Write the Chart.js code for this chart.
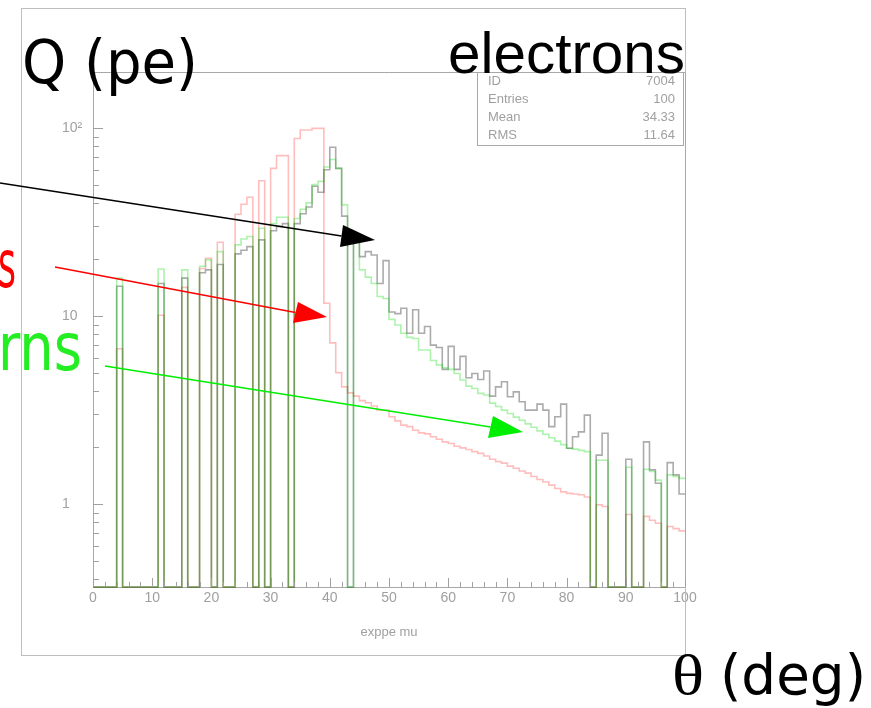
<!DOCTYPE html>
<html lang="en">
<head>
<meta charset="UTF-8">
<title>exppe mu</title>
<script src="https://cdn.jsdelivr.net/npm/chart.js"></script>
<style>
    body { margin: 0; background: #fff; }
    #chart { display: block; }
</style>
</head>
<body>
<canvas id="chart" width="871" height="708"></canvas>
<script>
// histogram 7004: 100 bins between 0 and 100, 0 = empty bin
const xMin = 0, xMax = 100, nBins = 100;
const yMin = 0.362, yMax = 198.6;

// black (electrons)
const electrons = [
    0, 0, 0, 0, 14.4, 0, 0, 0, 0, 0,
    0, 14.9, 0, 0, 0, 15.9, 0, 0, 17, 17.6,
    0, 18.8, 0, 0, 21.4, 22.4, 23.4, 0, 25.4, 0,
    28.4, 30, 31, 0, 31, 35, 38, 49, 45.5, 60,
    79, 61, 34, 0, 26, 20.7, 22, 21.1, 14.9, 19.7,
    10.5, 10.3, 11, 8.1, 10.8, 8.1, 8.8, 7.0, 6.8, 5.2,
    6.9, 5.2, 6.1, 4.7, 4.95, 4.6, 5.1, 3.75, 4.2, 4.47,
    3.72, 3.95, 3.5, 3.16, 3.16, 3.4, 3.16, 2.58, 2.91, 3.4,
    1.98, 2.28, 2.42, 2.97, 0, 1.82, 2.38, 0, 0, 0,
    1.73, 0, 0, 2.14, 1.52, 1.29, 0, 1.66, 1.43, 1.13
];
// red
const redHist = [
    0, 0, 0, 0, 6.7, 0, 0, 0, 0, 0,
    0, 10.1, 0, 0, 0, 14.2, 0, 0, 17.9, 20.3,
    0, 24.7, 0, 0, 34.8, 39.3, 42.8, 0, 52.4, 0,
    61, 71.3, 71.3, 0, 88, 97.6, 97.6, 99.6, 99.6, 11.7,
    7.2, 5.0, 4.2, 3.9, 3.75, 3.55, 3.46, 3.32, 3.16, 3.16,
    2.91, 2.77, 2.63, 2.58, 2.47, 2.39, 2.36, 2.28, 2.21, 2.14,
    2.1, 2.03, 1.99, 1.95, 1.9, 1.86, 1.8, 1.73, 1.68, 1.65,
    1.59, 1.55, 1.5, 1.46, 1.4, 1.35, 1.31, 1.26, 1.21, 1.16,
    1.14, 1.13, 1.12, 1.09, 0, 0.99, 0.97, 0, 0, 0,
    0.88, 0, 0, 0.86, 0.82, 0.79, 0, 0.76, 0.74, 0.72
];
// green
const greenHist = [
    0, 0, 0, 0, 15.9, 0, 0, 0, 0, 0,
    0, 17.8, 0, 0, 0, 17.6, 0, 0, 18.4, 19.9,
    0, 22, 0, 0, 23.9, 25.7, 26.5, 0, 29.3, 0,
    31, 33.5, 33.5, 0, 33, 37, 40, 50, 52, 62,
    68, 61, 39, 0, 27, 17.6, 16.1, 14.9, 12.7, 12.4,
    9.6, 8.96, 8.1, 7.7, 7.6, 6.6, 6.6, 5.8, 5.5, 5.3,
    5.2, 4.95, 4.57, 4.24, 4.12, 3.88, 3.8, 3.44, 3.3, 3.16,
    3.03, 2.9, 2.79, 2.67, 2.56, 2.45, 2.35, 2.25, 2.16, 2.07,
    1.98, 1.96, 1.93, 1.9, 0, 1.71, 1.71, 0, 0, 0,
    1.57, 0, 0, 1.53, 1.49, 1.34, 0, 1.43, 1.4, 1.37
];

const yTicks = [1, 10, 100];
const yTickLabels = ['1', '10', '10\u00B2'];
const xTitle = 'exppe mu';
const statLabels = ['ID', 'Entries', 'Mean', 'RMS'];
const statValues = ['7004', '100', '34.33', '11.64'];

// outline of a histogram, empty bins drop to the bottom of the axis
function steps(vals) {
    const w = (xMax - xMin) / nBins;
    const pts = vals.map((v, i) => ({ x: xMin + i * w, y: v > 0 ? v : yMin }));
    pts.push({ x: xMax, y: pts[pts.length - 1].y });
    return pts;
}

function fitText(ctx, str, x, baseline, size, family, width, color, align) {
    ctx.save();
    ctx.font = size + 'px ' + family;
    const w = ctx.measureText(str).width;
    ctx.translate(x, baseline);
    ctx.scale(width / w, 1);
    ctx.fillStyle = color;
    ctx.textAlign = align || 'left';
    ctx.textBaseline = 'alphabetic';
    ctx.fillText(str, 0, 0);
    ctx.restore();
}

function arrow(ctx, tail, base, head, color) {
    ctx.strokeStyle = color;
    ctx.fillStyle = color;
    ctx.lineWidth = 1.5;
    ctx.beginPath();
    ctx.moveTo(tail[0], tail[1]);
    ctx.lineTo((base[0][0] + base[1][0]) / 2, (base[0][1] + base[1][1]) / 2);
    ctx.stroke();
    ctx.beginPath();
    ctx.moveTo(base[0][0], base[0][1]);
    ctx.lineTo(base[1][0], base[1][1]);
    ctx.lineTo(head[0], head[1]);
    ctx.closePath();
    ctx.fill();
}

const deco = {
    id: 'deco',
    afterDraw(chart) {
        const { ctx, chartArea: a, scales: { x, y } } = chart;
        ctx.save();

        // page frame and the rest of the plot box
        ctx.strokeStyle = '#bdbdbd';
        ctx.lineWidth = 1;
        ctx.strokeRect(21.5, 8.5, 664, 647);
        ctx.strokeStyle = '#a8a8a8';
        ctx.beginPath();
        ctx.moveTo(a.left, a.top + 0.5);
        ctx.lineTo(a.right + 0.5, a.top + 0.5);
        ctx.lineTo(a.right + 0.5, a.bottom);
        ctx.stroke();

        // tick marks pointing into the plot
        ctx.strokeStyle = '#a0a0a0';
        ctx.beginPath();
        for (let v = xMin; v <= xMax; v += 2) {
            const px = Math.round(x.getPixelForValue(v)) + 0.5;
            const len = v % 10 === 0 ? 9 : 5;
            ctx.moveTo(px, a.bottom);
            ctx.lineTo(px, a.bottom - len);
        }
        [0.1, 1, 10, 100].forEach(d => {
            for (let m = 1; m <= 9; m++) {
                const v = m * d;
                if (v < yMin || v > yMax) continue;
                const py = Math.round(y.getPixelForValue(v)) + 0.5;
                ctx.moveTo(a.left, py);
                ctx.lineTo(a.left + (m === 1 ? 10 : 6), py);
            }
        });
        ctx.stroke();

        // statistics box
        ctx.fillStyle = '#fff';
        ctx.fillRect(477.5, 72.5, 206, 73);
        ctx.strokeStyle = '#a8a8a8';
        ctx.strokeRect(477.5, 72.5, 206, 73);
        ctx.font = '13px "Liberation Sans"';
        ctx.fillStyle = '#a0a0a0';
        ctx.textBaseline = 'middle';
        statLabels.forEach((s, i) => {
            const ty = 81 + i * 18;
            ctx.textAlign = 'left';
            ctx.fillText(s, 488, ty);
            ctx.textAlign = 'right';
            ctx.fillText(statValues[i], 675, ty);
        });

        // slide annotations
        fitText(ctx, 'Q (pe)', 22, 83, 60, '"DejaVu Sans"', 176, '#000');
        fitText(ctx, 'electrons', 448, 73, 58, '"Liberation Sans"', 237, '#000');
        fitText(ctx, '\u03B8', 672, 694, 56, '"Liberation Serif"', 32, '#000');
        fitText(ctx, '(deg)', 720, 694, 56, '"DejaVu Sans"', 146, '#000');
        fitText(ctx, 's', 16, 287, 66, '"DejaVu Sans"', 18, '#ff0000', 'right');
        fitText(ctx, 'rns', 82, 370, 66, '"DejaVu Sans"', 84, '#22ee22', 'right');

        arrow(ctx, [0, 183], [[343, 225], [340, 247]], [375, 240], '#000');
        arrow(ctx, [55, 267], [[298, 302], [293, 323]], [327, 317], '#ff0000');
        arrow(ctx, [105, 366], [[493, 416], [488, 438]], [523, 432], '#00ee00');

        ctx.restore();
    }
};

// PAW-style outline: each bin is a flat step, then a vertical edge
const line = {
    type: 'line',
    stepped: 'before',
    borderWidth: 1.6,
    pointRadius: 0,
    fill: false,
    clip: 3
};

// first dataset is painted last, so green ends up on top
new Chart(document.getElementById('chart'), {
    type: 'line',
    data: {
        datasets: [
            Object.assign({ label: 'green', data: steps(greenHist), borderColor: 'rgba(0,215,0,0.32)' }, line),
            Object.assign({ label: 'electrons', data: steps(electrons), borderColor: 'rgba(0,0,0,0.33)' }, line),
            Object.assign({ label: 'red', data: steps(redHist), borderColor: 'rgba(255,0,0,0.26)' }, line)
        ]
    },
    options: {
        responsive: false,
        animation: false,
        devicePixelRatio: 1,
        layout: { padding: { left: 62, right: 186, top: 72, bottom: 64 } },
        plugins: { legend: { display: false }, tooltip: { enabled: false } },
        scales: {
            x: {
                type: 'linear',
                min: xMin,
                max: xMax,
                grid: { display: false, drawTicks: false },
                border: { color: '#a8a8a8' },
                ticks: {
                    stepSize: 10,
                    autoSkip: false,
                    maxRotation: 0,
                    padding: 3,
                    color: '#a0a0a0',
                    font: { family: '"Liberation Sans"', size: 14 }
                },
                title: {
                    display: true,
                    text: xTitle,
                    color: '#a0a0a0',
                    font: { family: '"Liberation Sans"', size: 13 }
                },
                afterFit: s => { s.height = 57; }
            },
            y: {
                type: 'logarithmic',
                min: yMin,
                max: yMax,
                grid: { display: false, drawTicks: false },
                border: { color: '#a8a8a8' },
                afterBuildTicks: s => { s.ticks = yTicks.map(v => ({ value: v })); },
                ticks: {
                    crossAlign: 'far',
                    color: '#a0a0a0',
                    font: { family: '"Liberation Sans"', size: 14 },
                    callback: (v, i) => yTickLabels[i]
                },
                afterFit: s => { s.width = 31; }
            }
        }
    },
    plugins: [deco]
});
</script>
</body>
</html>
